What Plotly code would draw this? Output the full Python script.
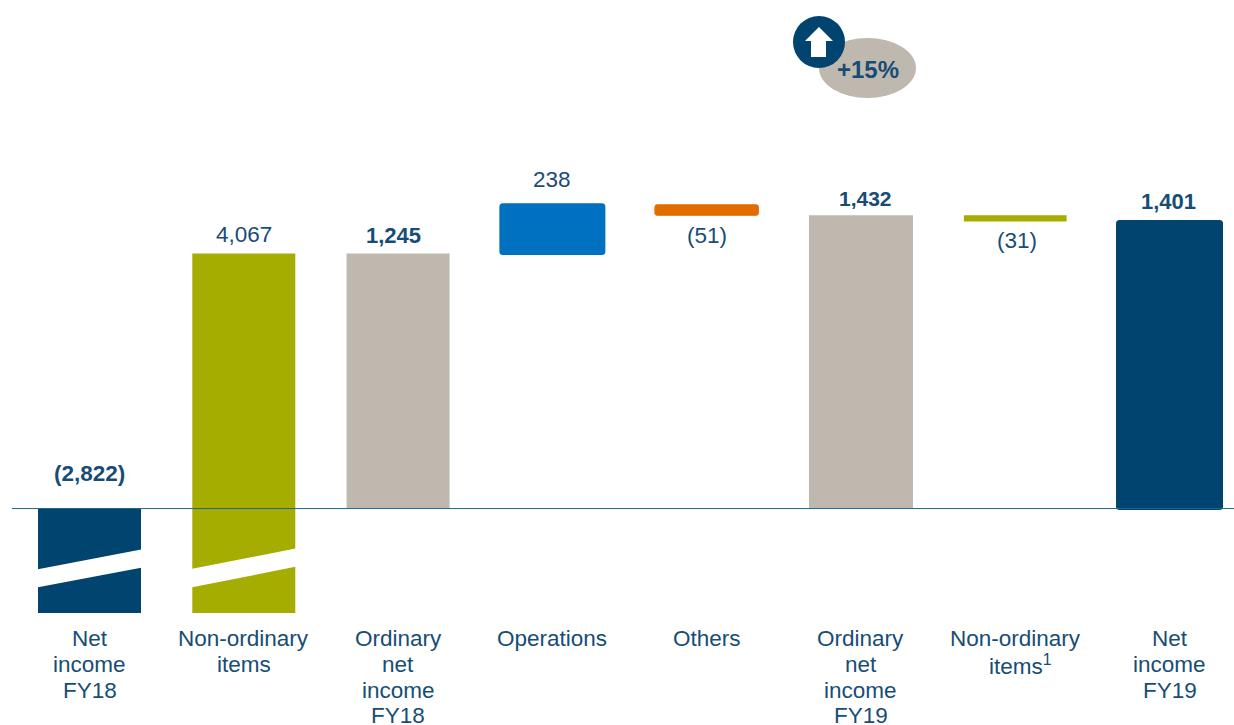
import plotly.graph_objects as go

# ---- data ----
category_lines = [
    ["Net", "income", "FY18"],
    ["Non-ordinary", "items"],
    ["Ordinary", "net", "income", "FY18"],
    ["Operations"],
    ["Others"],
    ["Ordinary", "net", "income", "FY19"],
    ["Non-ordinary", "items<sup>1</sup>"],
    ["Net", "income", "FY19"],
]
values = [-2822, 4067, 1245, 238, -51, 1432, -31, 1401]
bases = [0, -2822, 0, 1245, 1483, 0, 1432, 0]
value_labels = ["(2,822)", "4,067", "1,245", "238", "(51)", "1,432", "(31)", "1,401"]
label_bold = [True, False, True, False, False, True, False, True]
bar_colors = ["#00446F", "#A5AD00", "#BFB8AE", "#0070C0", "#E36C00", "#BFB8AE", "#A5AD00", "#00446F"]
change_label = "+15%"

# ---- styling / layout constants ----
W, H = 1234, 725
L, R, T, B = 12, 0, 0, 112
PLOT_W, PLOT_H = W - L - R, H - T - B
TEXT = "#174D75"
NAVY = "#00446F"
GRAY = "#BFB8AE"
FONT = "Liberation Sans"
SLOT = 154.29
bar_widths = [103, 103, 103, 103, 103.5, 104, 102.7, 104]
rounded = [False, False, False, True, True, False, False, True]
outline = [0, 0, 0, 3, 1, 0, 0, 3]
label_anchor = [0, 1245, 1245, 1483, 1432, 1432, 1401, 1401]
label_shift = [35.5, 19, 18, 25, -20, 17, -18.5, 20]
label_dx = [0, 0, -5, 0, 0, 5, 2, -1]
label_size = [22.5, 22.5, 22, 22.5, 22.5, 21, 22.5, 22]
line_offsets = [-25, -51.5, -77, -102.5]
x_range = [(L - 89.5) / SLOT, (W - 89.5) / SLOT]
y_range = [-510, 2483]


def px(x):
    return (x - L) / PLOT_W


def py(y):
    return 1 - (y - T) / PLOT_H


fig = go.Figure()
for flag in (False, True):
    idx = [i for i, r in enumerate(rounded) if r == flag]
    fig.add_trace(go.Bar(
        x=idx,
        y=[values[i] for i in idx],
        base=[bases[i] for i in idx],
        width=[bar_widths[i] / SLOT for i in idx],
        marker=dict(
            color=[bar_colors[i] for i in idx],
            line=dict(color=[bar_colors[i] for i in idx], width=[outline[i] for i in idx]),
            cornerradius=2 if flag else 0,
        ),
        hoverinfo="skip",
        showlegend=False,
    ))

shapes = []
# axis-break slashes across the two clipped bars
for i, (tl, tr, bl, br) in {0: (-300, -196, -388, -286), 1: (-298, -192, -388, -281)}.items():
    a, b = i - 0.36, i + 0.36
    shapes.append(dict(type="path", xref="x", yref="y", layer="above",
                       path=f"M{a},{tl} L{b},{tr} L{b},{br} L{a},{bl} Z",
                       fillcolor="white", line=dict(width=0)))
# baseline
shapes.append(dict(type="line", xref="paper", yref="y", x0=0, x1=1, y0=0, y1=0, layer="above",
                   line=dict(color="#1F6391", width=1)))
# +15% badge
shapes.append(dict(type="circle", xref="paper", yref="paper", layer="above",
                   x0=px(819), x1=px(916), y0=py(98), y1=py(38), fillcolor=GRAY, line=dict(width=0)))
shapes.append(dict(type="circle", xref="paper", yref="paper", layer="above",
                   x0=px(793), x1=px(845), y0=py(68), y1=py(16), fillcolor=NAVY, line=dict(width=0)))
arrow = [(819, 27), (833, 41), (826, 41), (826, 57), (811, 57), (811, 41), (805, 41)]
shapes.append(dict(type="path", xref="paper", yref="paper", layer="above",
                   path="M" + " L".join(f"{px(x):.5f},{py(y):.5f}" for x, y in arrow) + " Z",
                   fillcolor="white", line=dict(width=0)))

annotations = []
for i, txt in enumerate(value_labels):
    annotations.append(dict(
        x=i, y=label_anchor[i], xref="x", yref="y", xshift=label_dx[i], yshift=label_shift[i],
        text=f"<b>{txt}</b>" if label_bold[i] else txt, showarrow=False,
        xanchor="center", yanchor="middle",
        font=dict(family=FONT, size=label_size[i], color=TEXT),
    ))
for i, lines in enumerate(category_lines):
    for j, line in enumerate(lines):
        annotations.append(dict(
            x=i, y=0, xref="x", yref="paper", yshift=line_offsets[j],
            xshift=5 if "<sup>" in line else 0,
            text=line, showarrow=False, xanchor="center", yanchor="middle",
            font=dict(family=FONT, size=22.5, color=TEXT),
        ))
annotations.append(dict(
    x=px(868), y=py(70), xref="paper", yref="paper",
    text=f"<b>{change_label}</b>", showarrow=False, xanchor="center", yanchor="middle",
    font=dict(family=FONT, size=24, color=TEXT),
))

fig.update_layout(
    width=W, height=H, autosize=False,
    margin=dict(l=L, r=R, t=T, b=B, pad=0),
    paper_bgcolor="white", plot_bgcolor="white",
    barmode="overlay",
    hovermode=False,
    showlegend=False,
    font=dict(family=FONT, color=TEXT),
    xaxis=dict(range=x_range, visible=False, fixedrange=True),
    yaxis=dict(range=y_range, visible=False, fixedrange=True),
    shapes=shapes,
    annotations=annotations,
)

fig.write_html(
    "out.html",
    config={"displayModeBar": False},
    post_script="document.body.style.margin='0';document.body.style.overflow='hidden';",
)
